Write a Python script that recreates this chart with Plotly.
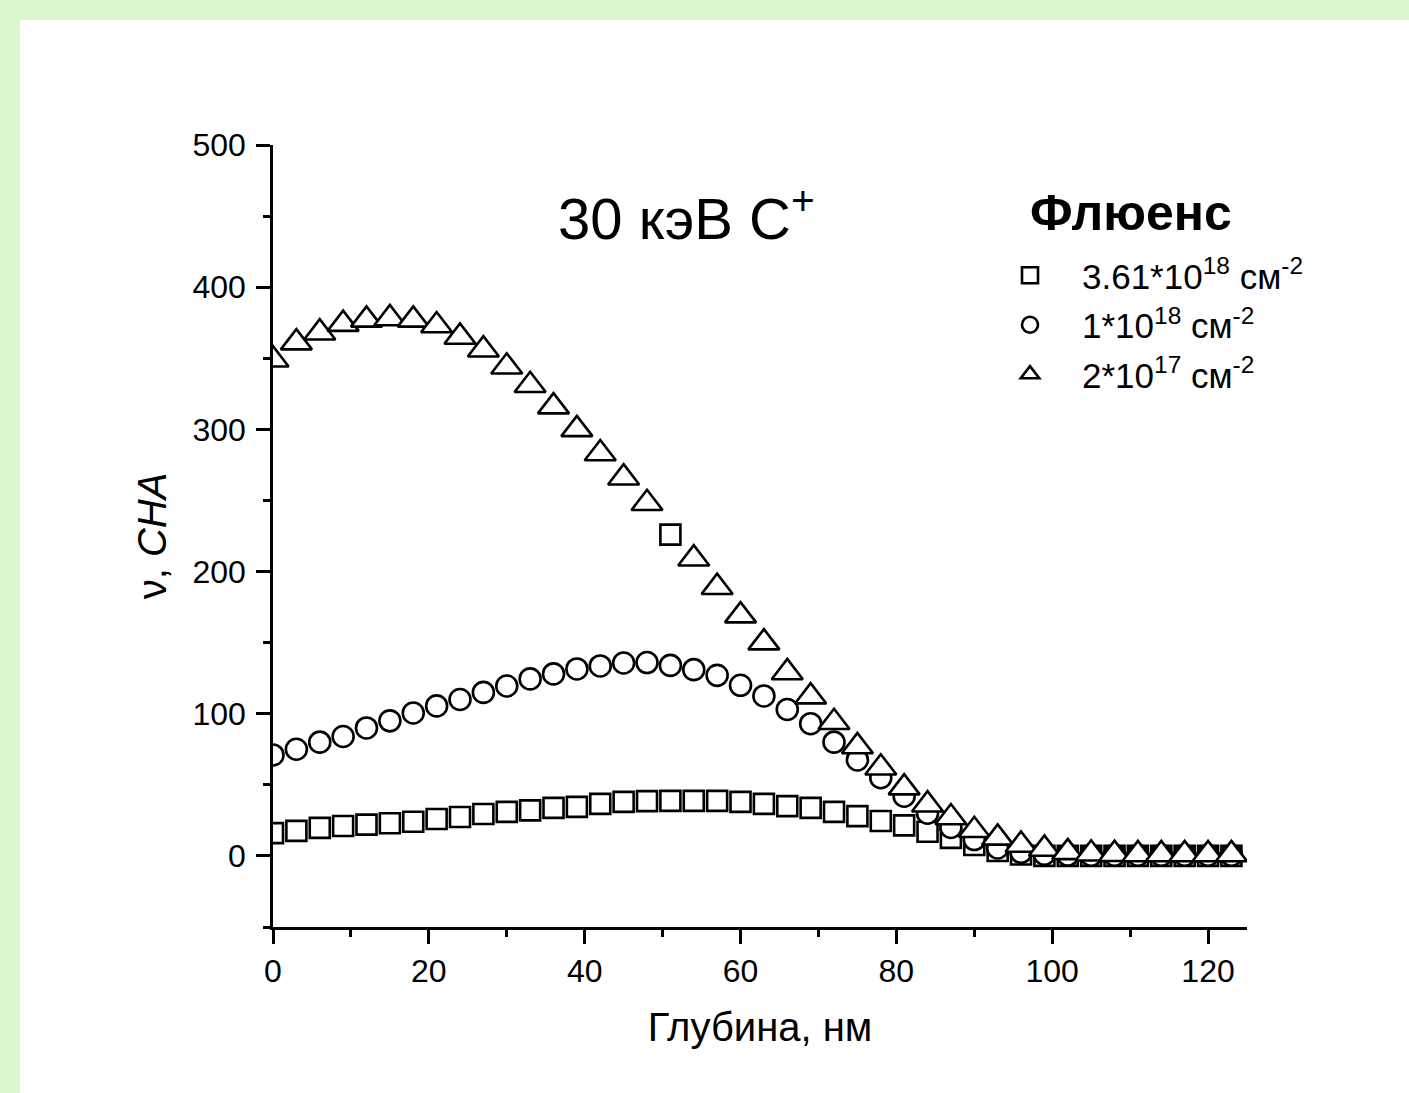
import plotly.graph_objects as go

# ---------------- data ----------------
depth_nm = [0, 3, 6, 9, 12, 15, 18, 21, 24, 27, 30, 33, 36, 39, 42, 45, 48, 51, 54, 57, 60,
            63, 66, 69, 72, 75, 78, 81, 84, 87, 90, 93, 96, 99, 102, 105, 108, 111, 114, 117, 120, 123]

fluence_361e18 = [16, 17.6, 19.7, 21, 22, 23, 24, 26, 27.4, 29.5, 31, 32, 33.8, 34.5, 36.6, 38,
                  38.5, 38.7, 38.7, 38.7, 38, 36.6, 35, 33.8, 31, 28, 24.6, 21.5, 17, 12.7, 7.7,
                  3.5, 1, 0, 0, 0, 0, 0, 0, 0, 0, 0]

fluence_1e18 = [71, 75, 80, 84, 90, 95, 100.5, 105.5, 110, 115, 119.5, 124.5, 128, 131.5, 133.6,
                135.7, 136, 134, 131, 127, 120, 112.5, 103, 93, 80, 67.5, 55, 42, 30, 20, 11.5,
                5.6, 2.5, 1.2, 0.6, 0.5, 0.5, 0.5, 0.5, 0.5, 0.5, 0.5]

fluence_2e17 = [349, 361, 368, 374, 377, 378, 377, 373, 365, 356, 344, 331, 316, 300, 283, 266,
                248, 226, 209, 189, 169, 150, 129, 112, 94, 77, 62, 48, 36, 27, 18, 12.7, 7.7,
                4.9, 2.5, 1.5, 1.2, 1, 1, 1, 1, 1]

series_names = ["3.61*10<sup>18</sup> см<sup>-2</sup>",
                "1*10<sup>18</sup> см<sup>-2</sup>",
                "2*10<sup>17</sup> см<sup>-2</sup>"]

title_text = "30 кэВ C<sup>+</sup>"
legend_title = "<b>Флюенс</b>"
x_title = "Глубина, нм"
y_title = "ν, <i>CHA</i>"

x_ticks = [0, 20, 40, 60, 80, 100, 120]
y_ticks = [0, 100, 200, 300, 400, 500]

# ---------------- style ----------------
FONT = "Liberation Sans, Arial, sans-serif"
GREEN = "#daf7d0"
LW = 2.6
SQ_SIZE = 20
CI_SIZE = 21
TRI_SIZE = 27
ODD_INDEX = 17  # the one point of the 2*10^17 series drawn as a square in the original

tri_symbols = ["square" if i == ODD_INDEX else "triangle-up" for i in range(len(depth_nm))]
tri_sizes = [SQ_SIZE if i == ODD_INDEX else TRI_SIZE for i in range(len(depth_nm))]

W, H = 1409, 1093
ML, MR, MT, MB = 273, 162, 145, 166

fig = go.Figure()

fig.add_trace(go.Scatter(
    x=depth_nm, y=fluence_361e18, mode="markers", name=series_names[0], legendgroup="a",
    marker=dict(symbol="square", size=SQ_SIZE, color="white", opacity=1,
                line=dict(color="black", width=LW)),
))
fig.add_trace(go.Scatter(
    x=depth_nm, y=fluence_1e18, mode="markers", name=series_names[1], legendgroup="b",
    marker=dict(symbol="circle", size=CI_SIZE, color="white", opacity=1,
                line=dict(color="black", width=LW)),
))
fig.add_trace(go.Scatter(
    x=depth_nm, y=fluence_2e17, mode="markers", name=series_names[2], legendgroup="c",
    marker=dict(symbol=tri_symbols, size=tri_sizes, color="white", opacity=1,
                line=dict(color="black", width=LW)),
))

pw = W - ML - MR
ph = H - MT - MB


def px_x(p):
    return (p - ML) / pw


def px_y(p):
    return 1 - (p - MT) / ph


ITEMW = 94

fig.update_layout(
    width=W, height=H,
    margin=dict(l=ML, r=MR, t=MT, b=MB, pad=0),
    paper_bgcolor="white",
    plot_bgcolor="white",
    font=dict(family=FONT, color="black", size=32),
    showlegend=True,
    legend=dict(
        font=dict(size=35, family=FONT),
        x=px_x(1030 - ITEMW / 2 - 5), y=px_y(246), xanchor="left", yanchor="top",
        bgcolor="rgba(0,0,0,0)", borderwidth=0,
        tracegroupgap=1, itemwidth=ITEMW,
    ),
    xaxis=dict(
        range=[0, 125], tickvals=x_ticks, showgrid=False, zeroline=False,
        showline=True, linecolor="black", linewidth=LW,
        ticks="outside", ticklen=14, tickwidth=LW, tickcolor="black",
        tickfont=dict(size=32), ticklabelstandoff=0,
        minor=dict(dtick=10, tick0=0, ticks="outside", ticklen=7, tickwidth=LW, tickcolor="black", showgrid=False),
        title=dict(text=x_title, font=dict(size=40), standoff=25),
    ),
    yaxis=dict(
        range=[-50, 500], tickvals=y_ticks, showgrid=False, zeroline=False,
        showline=True, linecolor="black", linewidth=LW,
        ticks="outside", ticklen=14, tickwidth=LW, tickcolor="black",
        tickfont=dict(size=32), ticklabelstandoff=4,
        minor=dict(dtick=50, tick0=0, ticks="outside", ticklen=7, tickwidth=LW, tickcolor="black", showgrid=False),
        title=dict(text=y_title, font=dict(size=40), standoff=14),
    ),
    annotations=[
        dict(text=title_text, x=px_x(686), y=px_y(214), xref="paper", yref="paper",
             xanchor="center", yanchor="middle", showarrow=False, font=dict(size=58, family=FONT)),
        dict(text=legend_title, x=px_x(1028), y=px_y(213), xref="paper", yref="paper",
             xanchor="left", yanchor="middle", showarrow=False, font=dict(size=50, family=FONT)),
    ],
    shapes=[
        dict(type="rect", xref="paper", yref="paper", x0=px_x(0), x1=px_x(W), y0=px_y(0), y1=px_y(20),
             fillcolor=GREEN, line=dict(width=0), layer="below"),
        dict(type="rect", xref="paper", yref="paper", x0=px_x(0), x1=px_x(20), y0=px_y(0), y1=px_y(H),
             fillcolor=GREEN, line=dict(width=0), layer="below"),
    ],
)

fig.write_html(
    "out.html",
    config={"displayModeBar": False},
    post_script="document.body.style.margin='0';document.body.style.padding='0';"
                "document.body.style.overflow='hidden';",
)
